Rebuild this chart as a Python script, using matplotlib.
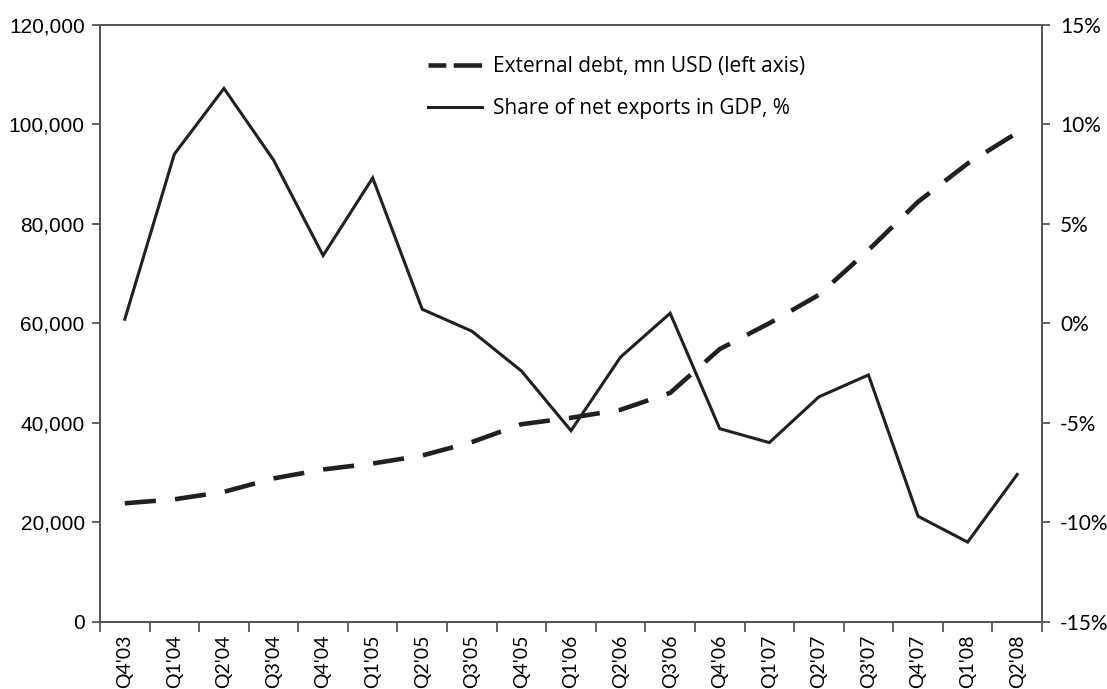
import matplotlib
matplotlib.use("Agg")
import matplotlib.pyplot as plt
from matplotlib.ticker import FuncFormatter, FixedLocator
from matplotlib.lines import Line2D
import numpy as np

quarters = ["Q4'03", "Q1'04", "Q2'04", "Q3'04", "Q4'04", "Q1'05", "Q2'05", "Q3'05",
            "Q4'05", "Q1'06", "Q2'06", "Q3'06", "Q4'06", "Q1'07", "Q2'07", "Q3'07",
            "Q4'07", "Q1'08", "Q2'08"]
external_debt = [23800, 24600, 26100, 28800, 30600, 31800, 33400, 36100, 39700, 41000,
                 42600, 46000, 54800, 60000, 65700, 74700, 84400, 92100, 98300]
net_exports_share = [0.2, 8.5, 11.8, 8.2, 3.4, 7.3, 0.7, -0.4, -2.4, -5.4,
                     -1.7, 0.5, -5.3, -6.0, -3.7, -2.6, -9.7, -11.0, -7.6]
left_ticks = [0, 20000, 40000, 60000, 80000, 100000, 120000]
right_ticks = [-15, -10, -5, 0, 5, 10, 15]

INK = "#231f20"
SPINE = "#555555"
W, H = 1107, 689

fig = plt.figure(figsize=(W / 100, H / 100), dpi=100)
ax = fig.add_axes([100 / W, 1 - 621.7 / H, (1042 - 100) / W, (621.7 - 24.7) / H])
ax2 = ax.twinx()

x = np.arange(len(quarters))
l1, = ax.plot(x, external_debt, color=INK, lw=3.3, dashes=(6.8, 4.2),
              solid_joinstyle="miter", label="External debt, mn USD (left axis)")
l2, = ax2.plot(x, net_exports_share, color=INK, lw=2.2, solid_joinstyle="miter",
               label="Share of net exports in GDP, %")

ax.set_xlim(-0.5, len(quarters) - 0.5)
ax.set_ylim(0, 120000)
ax2.set_ylim(-15, 15)

ax.set_yticks(left_ticks)
ax.yaxis.set_major_formatter(FuncFormatter(lambda v, p: f"{int(v):,}"))
ax2.set_yticks(right_ticks)
ax2.yaxis.set_major_formatter(FuncFormatter(lambda v, p: f"{int(v)}%"))

# category boundary ticks, labels centered
ax.xaxis.set_major_locator(FixedLocator(np.arange(-0.5, len(quarters), 1.0)))
ax.xaxis.set_major_formatter(FuncFormatter(lambda v, p: ""))
ax.xaxis.set_minor_locator(FixedLocator(x))
ax.set_xticklabels(quarters, minor=True)
ax.tick_params(axis="x", which="major", direction="out", length=7, width=1.3, color=SPINE)
ax.tick_params(axis="x", which="minor", length=0, pad=9, labelrotation=90,
               labelsize=14, labelcolor="black")
for t in ax.get_xticklabels(minor=True):
    t.set_fontfamily("Lato")

ax.tick_params(axis="y", direction="out", length=6, width=1.3, color=SPINE,
               labelsize=15, pad=5, labelcolor="black")
for t in ax.get_yticklabels():
    t.set_fontfamily("Liberation Sans")
ax2.tick_params(axis="y", direction="out", length=6, width=1.3, color=SPINE,
                labelsize=15, pad=7, labelcolor="black")
for t in ax2.get_yticklabels():
    t.set_fontfamily("Lato")

for a in (ax, ax2):
    for s in a.spines.values():
        s.set_color(SPINE)
        s.set_linewidth(1.3)

debt_handle = Line2D([], [], color=INK, lw=3.3, linestyle=(0, (3.9, 1.6, 6.2, 12)))
leg = fig.legend(handles=[debt_handle, l2], labels=[l1.get_label(), l2.get_label()],
                 loc="upper left",
                 bbox_to_anchor=(428 / W, 1 - 56 / H), bbox_transform=fig.transFigure,
                 frameon=False, prop={"family": "Open Sans", "size": 15},
                 handlelength=2.6, handletextpad=0.5, labelspacing=1.0,
                 borderpad=0, borderaxespad=0)

fig.savefig("out.png", dpi=100)
